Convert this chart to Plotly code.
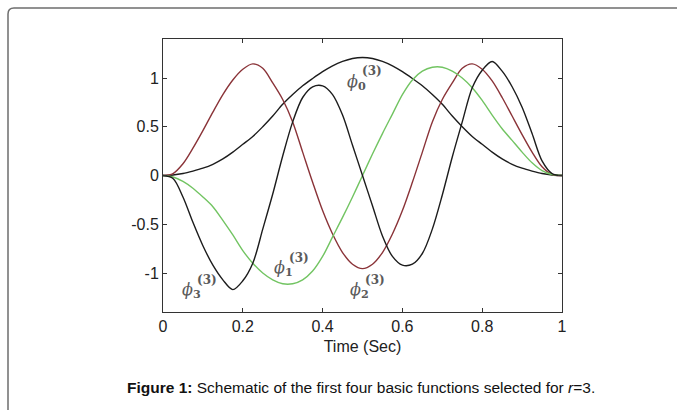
import plotly.graph_objects as go

# ---- data ----
t = [0.0, 0.025, 0.05, 0.075, 0.1, 0.125, 0.15, 0.175, 0.2, 0.225, 0.25, 0.275, 0.3, 0.325, 0.35,
     0.375, 0.4, 0.425, 0.45, 0.475, 0.5, 0.525, 0.55, 0.575, 0.6, 0.625, 0.65, 0.675, 0.7,
     0.725, 0.75, 0.775, 0.8, 0.825, 0.85, 0.875, 0.9, 0.925, 0.95, 0.975, 1.0]

phi0 = [0.0, 0.005, 0.02, 0.045, 0.075, 0.115, 0.17, 0.24, 0.32, 0.40, 0.50, 0.61, 0.73, 0.83, 0.92,
        0.995, 1.065, 1.125, 1.17, 1.20, 1.21, 1.20, 1.17, 1.125, 1.065, 0.995, 0.92, 0.83, 0.73,
        0.61, 0.50, 0.40, 0.32, 0.24, 0.17, 0.115, 0.075, 0.045, 0.02, 0.005, 0.0]

phi1 = [0.0, -0.015, -0.06, -0.13, -0.22, -0.32, -0.46, -0.61, -0.77, -0.90, -1.00, -1.07, -1.11, -1.11, -1.07,
        -0.98, -0.83, -0.63, -0.43, -0.22, 0.0, 0.22, 0.43, 0.63, 0.83, 0.98, 1.07, 1.11, 1.11,
        1.07, 1.00, 0.90, 0.77, 0.62, 0.48, 0.36, 0.24, 0.13, 0.05, 0.01, 0.0]

phi2 = [0.0, 0.02, 0.12, 0.28, 0.46, 0.65, 0.83, 0.98, 1.09, 1.145, 1.10, 0.95, 0.78, 0.55, 0.24,
        -0.07, -0.36, -0.60, -0.79, -0.91, -0.955, -0.91, -0.79, -0.60, -0.36, -0.07, 0.24, 0.55, 0.78,
        0.95, 1.10, 1.145, 1.09, 0.97, 0.80, 0.61, 0.42, 0.24, 0.09, 0.01, 0.0]

phi3 = [0.0, -0.03, -0.22, -0.48, -0.72, -0.92, -1.07, -1.17, -1.08, -0.90, -0.55, -0.19, 0.20, 0.55, 0.80,
        0.91, 0.92, 0.83, 0.62, 0.31, 0.0, -0.31, -0.62, -0.83, -0.92, -0.91, -0.80, -0.55, -0.20,
        0.19, 0.55, 0.90, 1.08, 1.17, 1.07, 0.91, 0.70, 0.43, 0.15, 0.02, 0.0]

x_ticks = [0, 0.2, 0.4, 0.6, 0.8, 1]
x_tick_text = ["0", "0.2", "0.4", "0.6", "0.8", "1"]
y_ticks = [-1, -0.5, 0, 0.5, 1]
y_tick_text = ["-1", "-0.5", "0", "0.5", "1"]

# curve labels: subscript and anchor (data coords)
label_sub = ["0", "1", "2", "3"]
label_x = [0.456, 0.273, 0.464, 0.043]
label_y = [0.955, -0.956, -1.18, -1.18]

BLACK = "#1c1c1c"
RED = "#8a3338"
GREEN = "#72c462"
LABEL = "#5a5a5a"
SANS = "Liberation Sans, Arial"

fig = go.Figure()
for ys, col in [(phi0, BLACK), (phi2, RED), (phi1, GREEN), (phi3, BLACK)]:
    fig.add_trace(go.Scatter(x=t, y=ys, mode="lines",
                             line=dict(color=col, width=1.4, shape="spline", smoothing=0.9),
                             showlegend=False, hoverinfo="skip"))

W, H = 677, 410
L, R, T, B = 163, 115, 39, 98
pw, ph = W - L - R, H - T - B

def px2paper(px, py):
    return (px - L) / pw, (H - B - py) / ph

for sx, sy, sub in zip(label_x, label_y, label_sub):
    fig.add_annotation(x=sx, y=sy, xref="x", yref="y", text="<i>ϕ</i><sub><b>%s</b></sub>" % sub,
                       showarrow=False, xanchor="left", yanchor="middle",
                       font=dict(family="DejaVu Serif", size=16, color=LABEL))
    fig.add_annotation(x=sx, y=sy, xref="x", yref="y", text="<b>(3)</b>",
                       showarrow=False, xanchor="left", yanchor="middle",
                       xshift=15, yshift=11,
                       font=dict(family="DejaVu Serif", size=12, color=LABEL))

# caption
cx, cy = px2paper(361, 387)
fig.add_annotation(x=cx, y=cy, xref="paper", yref="paper", showarrow=False,
                   xanchor="center", yanchor="middle",
                   text="<b>Figure 1:</b> Schematic of the first four basic functions selected for <i>r</i>=3.",
                   font=dict(family=SANS, size=15.5, color="#111111"))

# outer frame (rounded top-left corner)
x0, yb = px2paper(8, 415)
_, yt = px2paper(8, 8)
xr, _ = px2paper(690, 8)
rx = 6 / pw
ry = 6 / ph
fig.add_shape(type="path", xref="paper", yref="paper",
              path=f"M {x0},{yb} L {x0},{yt - ry} Q {x0},{yt} {x0 + rx},{yt} L {xr},{yt}",
              line=dict(color="#6e6e6e", width=1.5), layer="below")

axis_common = dict(showgrid=False, zeroline=False, showline=True, linecolor="#333333",
                   linewidth=1, mirror="ticks", ticks="inside", ticklen=4, tickcolor="#333333",
                   tickfont=dict(family=SANS, size=16, color="#222222"))

fig.update_xaxes(range=[0, 1], tickvals=x_ticks, ticktext=x_tick_text,
                 title=dict(text="Time (Sec)", standoff=6,
                            font=dict(family=SANS, size=16, color="#222222")),
                 **axis_common)
fig.update_yaxes(range=[-1.4, 1.4], tickvals=y_ticks, ticktext=y_tick_text, **axis_common)

fig.update_layout(width=W, height=H, margin=dict(l=L, r=R, t=T, b=B, autoexpand=False),
                  paper_bgcolor="white", plot_bgcolor="white")

fig.write_html("out.html")
